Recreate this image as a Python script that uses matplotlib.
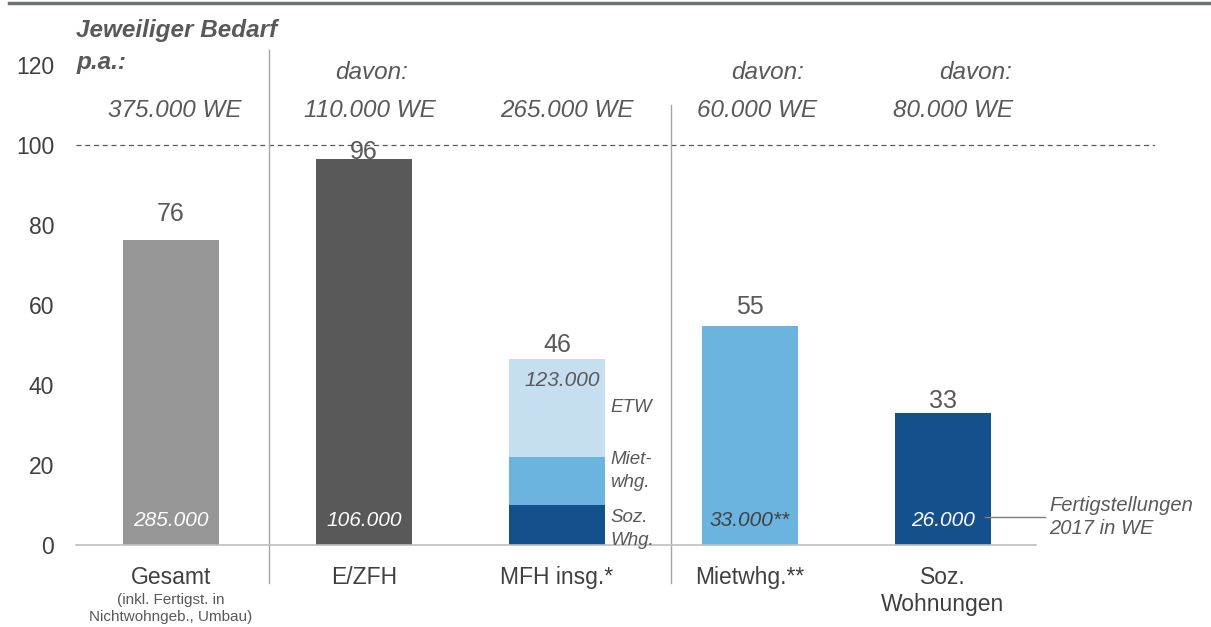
import matplotlib
matplotlib.use("Agg")
import matplotlib.pyplot as plt

# ---- data ----
categories = ["Gesamt", "E/ZFH", "MFH insg.*", "Mietwhg.**", "Soz.\nWohnungen"]
values = [76, 96, 46, 55, 33]              # label values
bar_heights = [76.3, 96.6, None, 54.8, 33.0]
mfh_segments = [10.0, 12.0, 24.5]          # Soz. Whg., Miet-whg., ETW
mfh_segment_labels = ["Soz.\nWhg.", "Miet-\nwhg.", "ETW"]
demand_labels = ["375.000 WE", "110.000 WE", "265.000 WE", "60.000 WE", "80.000 WE"]
davon_flags = [False, True, False, True, True]
completions = ["285.000", "106.000", "123.000", "33.000**", "26.000"]
yticks = [0, 20, 40, 60, 80, 100, 120]

bar_colors = ["#969696", "#595959", None, "#6cb4e0", "#14508c"]
mfh_colors = ["#14508c", "#6cb4e0", "#c6dff0"]

FONT = "Liberation Sans"
TXT = "#595959"

W, H = 1211, 627
fig = plt.figure(figsize=(W / 100, H / 100), dpi=100)
# axes: x data -> px = 171 + 193*x ; y: 0 -> 545px, 120 -> 65px
x0, x1 = -0.49, 5.1
ax = fig.add_axes([(171 + 193 * x0) / W, (H - 545) / H,
                   193 * (x1 - x0) / W, 480 / H])
ax.set_xlim(x0, x1)
ax.set_ylim(0, 120)
for s in ax.spines.values():
    s.set_visible(False)
ax.set_xticks([])
ax.set_yticks(yticks)
ax.set_yticklabels([str(t) for t in yticks], fontsize=16.5, color="#404040",
                   fontfamily=FONT)
ax.tick_params(axis="y", length=0, pad=16)

bw = 0.5
xs = list(range(len(categories)))
label_gap = [4.7, 0.0, 1.7, 3.0, 1.2]   # label offset above bar (styling)

# bars
for i, x in enumerate(xs):
    if i == 2:
        bottom = 0
        for h, c in zip(mfh_segments, mfh_colors):
            ax.bar(x, h, bw, bottom=bottom, color=c, zorder=2)
            bottom += h
        top = bottom
    else:
        ax.bar(x, bar_heights[i], bw, color=bar_colors[i], zorder=2)
        top = bar_heights[i]
    ax.text(x, top + label_gap[i], str(values[i]), ha="center",
            va="baseline", fontsize=18, color="#595959", fontfamily=FONT,
            zorder=4)

# baseline and reference line
ax.plot([x0, 4.48], [0, 0], color="#bfbfbf", lw=1.2, zorder=3, clip_on=False)
ax.axhline(100, color="#595959", lw=0.9, ls=(0, (4, 3)), zorder=1)

# separators
ax.plot([0.508, 0.508], [123.8, -9.5], color="#a6a6a6", lw=1.0, clip_on=False)
ax.plot([2.59, 2.59], [110, -9.5], color="#a6a6a6", lw=1.0, clip_on=False)

# completions inside bars
for i, x in enumerate(xs):
    if i == 2:
        ax.text(x + 0.22, sum(mfh_segments) - 5.5, completions[i], ha="right",
                va="center", fontsize=15, style="italic", color=TXT,
                fontfamily=FONT, zorder=4)
    else:
        col = "#404040" if i == 3 else "white"
        ax.text(x, 6.2, completions[i], ha="center", va="center",
                fontsize=15, style="italic", color=col, fontfamily=FONT,
                zorder=4)

# MFH segment labels
seg_y = [4.0, 18.5, 34.3]
for lab, yy in zip(mfh_segment_labels, seg_y):
    ax.text(2.275, yy, lab, ha="left", va="center", fontsize=13.5,
            style="italic", color=TXT, fontfamily=FONT, linespacing=1.45)

# annotation
ax.plot([4.22, 4.53], [7, 7], color="#7f7f7f", lw=1.0, clip_on=False)
ax.text(4.55, 7.0, "Fertigstellungen\n2017 in WE", ha="left", va="center",
        fontsize=14.5, style="italic", color=TXT, fontfamily=FONT,
        linespacing=1.25, clip_on=False)

# header texts: demand per category
hdr_dx = [0.02, 0.03, 0.05, 0.035, 0.05]
for i, x in enumerate(xs):
    ax.text(x + hdr_dx[i], 108.7, demand_labels[i], ha="center", va="center",
            fontsize=17.5, style="italic", color=TXT, fontfamily=FONT,
            clip_on=False)
davon_dx = [0, 0.04, 0, 0.09, 0.17]
for i, x in enumerate(xs):
    if davon_flags[i]:
        ax.text(x + davon_dx[i], 118.2, "davon:", ha="center", va="center",
                fontsize=17.5, style="italic", color=TXT, fontfamily=FONT,
                clip_on=False)

ax.text(x0, 128.5, "Jeweiliger Bedarf", ha="left", va="center", fontsize=17.5,
        style="italic", weight="bold", color=TXT, fontfamily=FONT,
        clip_on=False)
ax.text(x0, 120.5, "p.a.:", ha="left", va="center", fontsize=17.5,
        style="italic", weight="bold", color=TXT, fontfamily=FONT,
        clip_on=False)

# category labels
for i, x in enumerate(xs):
    ax.text(x, -5.3, categories[i], ha="center", va="top", fontsize=16.5,
            color="#404040", fontfamily=FONT, linespacing=1.2, clip_on=False)
ax.text(0, -11.9, "(inkl. Fertigst. in\nNichtwohngeb., Umbau)", ha="center",
        va="top", fontsize=11, color=TXT, fontfamily=FONT,
        linespacing=1.3, clip_on=False)

# top rule
fig.add_artist(plt.Line2D([9 / W, 1], [1 - 3 / H, 1 - 3 / H], color="#6b7079",
                          lw=2.5))

fig.savefig("out.png", dpi=100)
